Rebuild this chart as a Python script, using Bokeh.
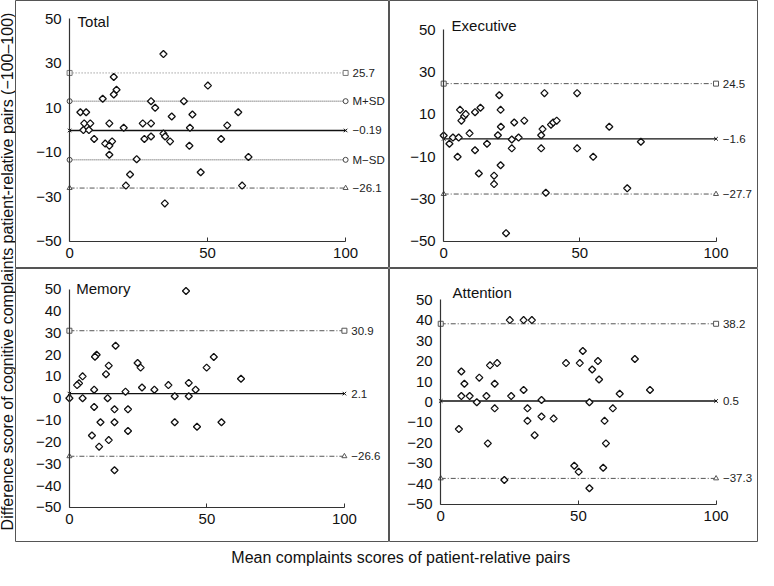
import math
from bokeh.plotting import figure
from bokeh.layouts import column, row
from bokeh.models import Range1d, FixedTicker, LinearAxis, Label
from bokeh.core.properties import value
from bokeh.embed import file_html
from bokeh.resources import INLINE

FONT = "Liberation Sans"

# ---------------- data ----------------
total_x = [34.0, 16.0, 50.1, 17.0, 16.0, 12.0, 29.5, 41.4, 31.0, 3.9, 6.0, 61.1, 44.5, 37.0, 5.3,
           7.5, 14.4, 26.5, 29.5, 57.1, 5.0, 7.0, 19.6, 43.6, 34.0, 34.6, 8.9, 27.1, 29.5, 54.9,
           12.9, 15.4, 14.4, 36.4, 43.4, 14.4, 24.3, 64.8, 47.5, 21.9, 20.4, 62.5, 34.5]
total_y = [34.2, 23.9, 20.0, 18.1, 16.0, 14.1, 13.0, 13.0, 10.0, 8.0, 8.0, 8.0, 7.0, 6.1, 3.0,
           3.0, 3.0, 3.0, 3.0, 2.1, 0, 0, 1.0, 1.0, -1.6, -2.9, -4.0, -4.0, -2.9, -4.0,
           -6.1, -5.1, -7.1, -5.1, -7.1, -11.1, -13.1, -12.1, -19.0, -20.0, -25.0, -25.0, -33.0]

exec_x = [0, 2.1, 3.4, 5.5, 5.1, 6.0, 6.5, 7.5, 8.1, 9.5, 11.5, 13.5, 11.5, 12.9, 15.9,
          20.4, 18.5, 18.5, 19.9, 20.9, 21.0, 20.9, 22.9, 25.0, 25.0, 25.9, 27.5, 29.6, 35.8, 35.8,
          36.3, 37.0, 37.5, 39.4, 40.2, 41.5, 49.0, 49.0, 54.9, 60.8, 67.4, 72.4]
exec_y = [0, -3.9, -1.0, -1.0, -10.1, 12.1, 7.0, 9.1, 10.1, 1.0, 11.0, 13.1, -7.0, -18.0, -3.9,
          19.0, -19.0, -23.0, 0.1, 12.1, 4.1, -14.1, -46.2, -1.9, -6.1, 6.1, -1.0, 7.0, 0.1, -6.1,
          3.0, 20.0, -27.1, 5.1, 6.1, 7.0, 20.0, -6.1, -10.1, 4.1, -25.0, -3.0]

mem_x = [42.4, 16.8, 9.9, 9.3, 52.5, 24.8, 14.3, 25.9, 49.9, 13.3, 4.8, 62.4, 3.5, 2.8, 36.0,
         43.4, 26.4, 9.0, 30.9, 45.9, 20.4, 0, 4.8, 13.9, 38.3, 43.4, 9.0, 16.4, 21.3, 11.3,
         16.4, 38.3, 55.3, 46.4, 21.3, 8.2, 14.3, 10.8, 16.4]
mem_y = [49.1, 24.0, 19.9, 19.0, 18.9, 16.1, 14.9, 14.0, 14.0, 11.0, 10.0, 8.9, 6.8, 6.0, 6.0,
         7.0, 4.9, 3.9, 3.9, 3.9, 3.0, 0, 0, 0, 0.9, 0.9, -4.0, -5.1, -5.1, -11.0,
         -11.0, -11.0, -11.0, -13.1, -15.0, -17.1, -19.2, -22.2, -33.0]

att_x = [25.1, 30.1, 33.1, 51.6, 70.5, 57.1, 45.5, 50.5, 20.5, 17.9, 7.5, 55.0, 14.0, 57.5, 8.6,
         19.6, 30.1, 76.0, 65.0, 7.5, 10.5, 16.6, 25.6, 13.1, 36.6, 54.0, 19.6, 31.5, 62.5, 31.5,
         36.6, 41.0, 59.5, 6.6, 34.1, 17.1, 60.0, 48.5, 50.1, 59.0, 23.1, 54.0]
att_y = [40.0, 40.0, 40.0, 24.9, 21.0, 20.0, 19.0, 19.0, 19.0, 17.9, 14.9, 15.9, 11.9, 11.0, 8.9,
         8.9, 5.9, 5.9, 4.0, 2.9, 2.9, 2.9, 2.9, -0.1, 1.0, -0.1, -3.1, -3.1, -3.1, -9.2,
         -7.1, -8.1, -9.2, -13.2, -16.2, -20.2, -20.2, -31.1, -34.1, -32.1, -38.1, -42.1]

total_lines = [25.7, 13.0, -0.19, -13.4, -26.1]
total_labels = ["25.7", "M+SD", "\u22120.19", "M\u2212SD", "\u221226.1"]
exec_lines = [24.5, -1.6, -27.7]
exec_labels = ["24.5", "\u22121.6", "\u221227.7"]
mem_lines = [30.9, 2.1, -26.6]
mem_labels = ["30.9", "2.1", "\u221226.6"]
att_lines = [38.2, 0.5, -37.3]
att_labels = ["38.2", "0.5", "\u221237.3"]

yticks_odd = [-50, -30, -10, 10, 30, 50]
yticks_ten = [-50, -40, -30, -20, -10, 0, 10, 20, 30, 40, 50]
xticks = [0, 50, 100]

x_title = "Mean complaints scores of patient-relative pairs"
y_title = "Difference score of cognitive complaints patient-relative pairs (\u2212100\u2013100)"

# line styles: (dash, color, marker)
DASHDOT = "5 2 1 2"
STY_UP = (DASHDOT, "#555555", "square")
STY_MEAN = ("solid", "#111111", "x")
STY_LOW = (DASHDOT, "#555555", "triangle")
total_styles = [("1 2", "#777777", "square"), ("1 1", "#444444", "circle"), STY_MEAN,
                ("1 1", "#444444", "circle"), STY_LOW]
other_styles = [STY_UP, STY_MEAN, STY_LOW]


def fmt(v):
    s = str(int(v))
    return s.replace("-", "\u2212")


def panel(name, xs, ys, lines, labels, styles, yticks, xr, yr, w, h, tpos):
    p = figure(width=w, height=h, x_range=Range1d(*xr), y_range=Range1d(*yr),
               output_backend="svg", toolbar_location=None,
               x_axis_location=None, y_axis_location=None, min_border=0)
    p.xgrid.grid_line_color = None
    p.ygrid.grid_line_color = None
    p.outline_line_color = "#555555"
    p.outline_line_width = 1
    p.background_fill_color = "white"
    p.border_fill_color = "white"

    xa = LinearAxis(fixed_location=-50, bounds=(0, 100), ticker=FixedTicker(ticks=xticks))
    xa.major_label_overrides = {t: fmt(t) for t in xticks}
    xa.major_tick_in = 4
    xa.major_tick_out = 0
    xa.minor_tick_line_color = None
    xa.axis_line_color = "#333333"
    xa.axis_line_width = 1.2
    xa.major_tick_line_color = "#333333"
    xa.major_label_text_font = FONT
    xa.major_label_text_font_size = "15px"
    xa.major_label_text_color = "#111111"
    xa.major_label_standoff = 7
    p.add_layout(xa, "below")

    ya = LinearAxis(fixed_location=0, bounds=(-50, 50), ticker=FixedTicker(ticks=yticks))
    ya.major_label_overrides = {t: fmt(t) for t in yticks}
    ya.major_tick_in = 0
    ya.major_tick_out = 0
    ya.minor_tick_line_color = None
    ya.axis_line_color = "#333333"
    ya.axis_line_width = 1.2
    ya.major_label_text_font = FONT
    ya.major_label_text_font_size = "15px"
    ya.major_label_text_color = "#111111"
    ya.major_label_standoff = 8
    p.add_layout(ya, "left")

    for v, lab, (dash, col, mk) in zip(lines, labels, styles):
        p.segment(x0=xticks[0], x1=xticks[-1], y0=v, y1=v, line_color=col,
                  line_dash=dash, line_width=1.3 if dash == "solid" else 1)
        p.scatter([xticks[0], xticks[-1]], [v, v], marker=mk, size=5,
                  fill_color="white", line_color=col, line_width=1)
        p.text(x=[102.5], y=[v], text=[lab], text_font=value(FONT), text_font_size="11.5px",
               text_baseline="middle", text_align="left", text_color="#222222")

    p.scatter(xs, ys, marker="square", angle=math.pi / 4, size=5, fill_color="white",
              line_color="#111111", line_width=1.3)

    p.add_layout(Label(x=tpos[0], y=tpos[1], text=name, text_font=FONT,
                       text_font_size="15px", text_color="#111111",
                       text_baseline="alphabetic"))
    return p


LW, RW = 374, 369
TH, BH = 268, 274

p_total = panel("Total", total_x, total_y, total_lines, total_labels, total_styles, yticks_odd,
                (-19.6, 115.9), (-62.3, 58.3), LW, TH, (2.9, 49.0))
p_exec = panel("Executive", exec_x, exec_y, exec_lines, exec_labels, other_styles, yticks_odd,
               (-19.9, 115.6), (-62.9, 63.8), RW, TH, (2.9, 51.8))
p_mem = panel("Memory", mem_x, mem_y, mem_lines, mem_labels, other_styles, yticks_ten,
              (-19.6, 116.4), (-66.1, 59.4), LW, BH, (2.5, 50.4))
p_att = panel("Attention", att_x, att_y, att_lines, att_labels, other_styles, yticks_ten,
              (-18.6, 115.4), (-68.6, 65.2), RW, BH, (4.3, 53.3))

# y-axis title strip
ylab = figure(width=15, height=TH + BH, x_range=Range1d(0, 1), y_range=Range1d(0, 1),
              output_backend="svg", toolbar_location=None, x_axis_location=None,
              y_axis_location=None, min_border=0, outline_line_color=None)
ylab.xgrid.grid_line_color = None
ylab.ygrid.grid_line_color = None
ylab.add_layout(Label(x=0.45, y=0.5, text=y_title, angle=math.pi / 2, text_align="center",
                      text_baseline="middle", text_font=FONT, text_font_size="16px",
                      text_color="#111111"))

# x-axis title strip
xlab = figure(width=15 + LW + RW, height=28, x_range=Range1d(0, 1), y_range=Range1d(0, 1),
              output_backend="svg", toolbar_location=None, x_axis_location=None,
              y_axis_location=None, min_border=0, outline_line_color=None)
xlab.xgrid.grid_line_color = None
xlab.ygrid.grid_line_color = None
xlab.add_layout(Label(x=0.528, y=0.45, text=x_title, text_align="center",
                      text_baseline="middle", text_font=FONT, text_font_size="16px",
                      text_color="#111111"))

layout = column(row(ylab, column(row(p_total, p_exec), row(p_mem, p_att))), xlab)

open("out.html", "w").write(file_html(layout, INLINE))
